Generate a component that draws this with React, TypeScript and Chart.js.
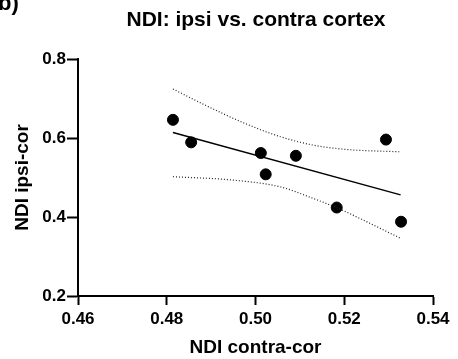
import React, { useEffect, useRef } from "react";
import { Chart, registerables } from "chart.js";

Chart.register(...registerables);

const panelLabel = "b)";
const chartTitle = "NDI: ipsi vs. contra cortex";
const xAxisTitle = "NDI contra-cor";
const yAxisTitle = "NDI ipsi-cor";

const contraCor = [0.4814, 0.4855, 0.5012, 0.5023, 0.5091, 0.5183, 0.5294, 0.5328];
const ipsiCor = [0.646, 0.589, 0.562, 0.508, 0.555, 0.424, 0.596, 0.388];

const fitX = [0.4814, 0.5327];
const fitY = [0.614, 0.456];

const upperX = [0.4814, 0.4886, 0.4976, 0.5057, 0.513, 0.5205, 0.5327];
const upperY = [0.724, 0.6835, 0.637, 0.603, 0.582, 0.571, 0.565];

const lowerX = [0.4814, 0.4946, 0.5057, 0.513, 0.5183, 0.5243, 0.5327];
const lowerY = [0.502, 0.4937, 0.476, 0.447, 0.4235, 0.392, 0.346];

const xTicks = [0.46, 0.48, 0.5, 0.52, 0.54];
const yTicks = [0.2, 0.4, 0.6, 0.8];

const FONT = '"Liberation Sans", Arial, Helvetica, sans-serif';

const pts = (xs: number[], ys: number[]) => xs.map((x, i) => ({ x, y: ys[i] }));

const textPlugin = {
  id: "extraTexts",
  afterDraw(chart: any) {
    const ctx = chart.ctx;
    const ca = chart.chartArea;
    ctx.save();
    ctx.fillStyle = "#000";
    ctx.textBaseline = "alphabetic";
    ctx.font = `bold 21px ${FONT}`;
    ctx.textAlign = "center";
    ctx.fillText(chartTitle, 256, 26);
    ctx.font = `bold 22px ${FONT}`;
    ctx.textAlign = "left";
    ctx.fillText(panelLabel, -2, 10);
    ctx.restore();
  },
};

export default function App() {
  const ref = useRef<HTMLCanvasElement | null>(null);
  useEffect(() => {
    document.body.style.margin = "0";
    if (!ref.current) return;
    const chart = new Chart(ref.current, {
      type: "scatter",
      data: {
        datasets: [
          {
            type: "line",
            data: pts(upperX, upperY),
            borderColor: "#222",
            borderWidth: 1.2,
            borderDash: [1, 2],
            pointRadius: 0,
            cubicInterpolationMode: "monotone",
            fill: false,
          },
          {
            type: "line",
            data: pts(lowerX, lowerY),
            borderColor: "#222",
            borderWidth: 1.2,
            borderDash: [1, 2],
            pointRadius: 0,
            cubicInterpolationMode: "monotone",
            fill: false,
          },
          {
            type: "line",
            data: pts(fitX, fitY),
            borderColor: "#000",
            borderWidth: 1.5,
            pointRadius: 0,
            fill: false,
          },
          {
            type: "scatter",
            data: pts(contraCor, ipsiCor),
            backgroundColor: "#000",
            borderColor: "#000",
            pointRadius: 5.5,
            pointHoverRadius: 5.5,
          },
        ] as any,
      },
      options: {
        responsive: false,
        animation: false,
        layout: { padding: { top: 59, right: 25, left: 0, bottom: 0 } },
        plugins: {
          legend: { display: false },
          tooltip: { enabled: false },
          title: { display: false },
        },
        scales: {
          x: {
            type: "linear",
            min: 0.46,
            max: 0.54,
            afterBuildTicks: (s: any) => {
              s.ticks = xTicks.map((v) => ({ value: v }));
            },
            afterFit: (s: any) => {
              s.height = 63;
            },
            grid: {
              display: true,
              drawOnChartArea: false,
              drawTicks: true,
              tickLength: 9,
              tickWidth: 2,
              tickColor: "#000",
            },
            border: { display: true, color: "#000", width: 2 },
            ticks: {
              color: "#000",
              padding: 4,
              maxRotation: 0,
              font: { family: FONT, size: 17, weight: "bold" },
              callback: (v: any) => Number(v).toFixed(2),
            },
            title: {
              display: true,
              text: xAxisTitle,
              color: "#000",
              font: { family: FONT, size: 19, weight: "bold" },
              padding: { top: 0, bottom: 0 },
            },
          },
          y: {
            type: "linear",
            min: 0.2,
            max: 0.8,
            afterBuildTicks: (s: any) => {
              s.ticks = yTicks.map((v) => ({ value: v }));
            },
            afterFit: (s: any) => {
              s.width = 78;
            },
            grid: {
              display: true,
              drawOnChartArea: false,
              drawTicks: true,
              tickLength: 11,
              tickWidth: 2,
              tickColor: "#000",
            },
            border: { display: true, color: "#000", width: 2 },
            ticks: {
              color: "#000",
              padding: 1,
              font: { family: FONT, size: 17, weight: "bold" },
              callback: (v: any) => Number(v).toFixed(1),
            },
            title: {
              display: true,
              text: yAxisTitle,
              color: "#000",
              font: { family: FONT, size: 19, weight: "bold" },
              padding: { top: 11, bottom: 0 },
            },
          },
        },
      },
      plugins: [textPlugin],
    });
    return () => chart.destroy();
  }, []);
  return (
    <div style={{ position: "absolute", left: 0, top: 0, width: 458, height: 359 }}>
      <canvas ref={ref} width={458} height={359} style={{ display: "block" }} />
    </div>
  );
}
